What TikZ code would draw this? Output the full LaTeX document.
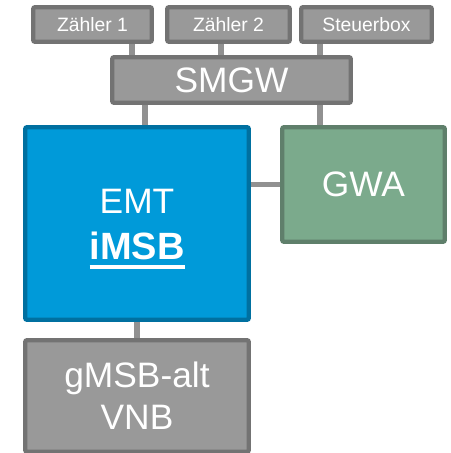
\documentclass[tikz,border=0pt]{standalone}
\usepackage{fontspec}
\setmainfont{Liberation Sans}
\usetikzlibrary{backgrounds}
\definecolor{grayfill}{HTML}{999999}
\definecolor{graydraw}{HTML}{737373}
\definecolor{bluefill}{HTML}{009AD9}
\definecolor{bluedraw}{HTML}{0070A0}
\definecolor{greenfill}{HTML}{7BAA8C}
\definecolor{greendraw}{HTML}{5F7F6B}
\definecolor{linkgray}{HTML}{919191}
\newcommand\ulbar[1]{\setbox0=\hbox{#1}\rlap{\vrule width\wd0 height -3.5pt depth 6.5pt}\box0}
\begin{document}
\begin{tikzpicture}[x=0.75pt,y=-0.75pt,
  box/.style={rectangle, rounded corners=1.5pt, line width=3.2pt, inner sep=0pt, text=white, align=center},
  graybox/.style={box, fill=grayfill, draw=graydraw},
  bluebox/.style={box, fill=bluefill, draw=bluedraw},
  greenbox/.style={box, fill=greenfill, draw=greendraw},
  small/.style={font=\fontsize{14.5}{17}\selectfont},
  big/.style={font=\fontsize{26.5}{34}\selectfont},
  link/.style={draw=linkgray, line width=3.8pt}]
\useasboundingbox (0,0) rectangle (450,453);
% outer sizes minus line width (3.2pt = 4.27px)
\node[graybox, small, minimum width=118.7*0.75pt, minimum height=34.7*0.75pt] (z1) at (92.5,24.5) {Zähler 1};
\node[graybox, small, minimum width=122.7*0.75pt, minimum height=34.7*0.75pt] (z2) at (228.5,24.5) {Zähler 2};
\node[graybox, small, minimum width=130.7*0.75pt, minimum height=34.7*0.75pt] (st) at (366.5,24.5) {Steuerbox};
\node[graybox, big, minimum width=238.7*0.75pt, minimum height=45.7*0.75pt] (smgw) at (231.5,80) {SMGW};
\node[bluebox, big, minimum width=223.7*0.75pt, minimum height=192.7*0.75pt] (emt) at (137,223.5) {\rule{0pt}{26.5pt}EMT\\[0.5pt]{\fontsize{28.5}{34}\selectfont\bfseries\ulbar{iMSB}}};
\node[greenbox, big, minimum width=162.7*0.75pt, minimum height=114.7*0.75pt] (gwa) at (363.5,184.5) {GWA};
\node[graybox, big, font=\fontsize{26.5}{31.5}\selectfont, minimum width=223.7*0.75pt, minimum height=111.7*0.75pt] (gmsb) at (137,396) {gMSB-alt\\VNB};
\coordinate (x1) at (132,0);
\coordinate (x2) at (221,0);
\coordinate (x3) at (320,0);
\coordinate (x4) at (145,0);
\coordinate (x5) at (137,0);
\begin{scope}[on background layer]
\draw[link] (z1.south -| x1) -- (smgw.north -| x1);
\draw[link] (z2.south -| x2) -- (smgw.north -| x2);
\draw[link] (st.south -| x3) -- (smgw.north -| x3);
\draw[link] (smgw.south -| x4) -- (emt.north -| x4);
\draw[link] (smgw.south -| x3) -- (gwa.north -| x3);
\draw[link] (emt.east |- gwa.west) -- (gwa.west);
\draw[link] (emt.south -| x5) -- (gmsb.north -| x5);
\end{scope}
\end{tikzpicture}
\end{document}
